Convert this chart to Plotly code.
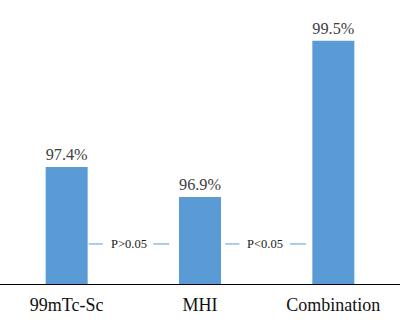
import plotly.graph_objects as go

categories = ["99mTc-Sc", "MHI", "Combination"]
values = [97.4, 96.9, 99.5]
value_labels = ["97.4%", "96.9%", "99.5%"]
p_labels = ["P>0.05", "P<0.05"]

BLUE = "#5B9BD5"
SERIF = "Liberation Serif"

fig = go.Figure()
fig.add_trace(go.Bar(
    x=categories, y=values,
    marker=dict(color=BLUE, line=dict(width=0)),
    text=value_labels, textposition="outside",
    textfont=dict(family=SERIF, size=18, color="#404040"),
    outsidetextfont=dict(family=SERIF, size=18, color="#404040"),
    cliponaxis=False,
))

# p-value annotations between bars
centers = [0.465, 1.49]
for c, lab in zip(centers, p_labels):
    fig.add_annotation(x=c, y=0.141, xref="x", yref="paper", text=lab,
                       yanchor="middle", xanchor="center",
                       showarrow=False, font=dict(family=SERIF, size=12.5, color="#222222"))
    fig.add_shape(type="line", xref="x", yref="paper", x0=c - 0.3, x1=c - 0.195,
                  y0=0.141, y1=0.141, line=dict(color=BLUE, width=1))
    fig.add_shape(type="line", xref="x", yref="paper", x0=c + 0.185, x1=c + 0.305,
                  y0=0.141, y1=0.141, line=dict(color=BLUE, width=1))

fig.update_layout(
    width=408, height=326,
    margin=dict(l=0, r=8, t=0, b=42),
    plot_bgcolor="white", paper_bgcolor="white",
    font=dict(family=SERIF),
    bargap=0.685,
    showlegend=False,
    xaxis=dict(type="category", range=[-0.5, 2.5], showline=True, linecolor="black",
               linewidth=1, ticks="outside", ticklen=4, tickcolor="rgba(0,0,0,0)",
               showgrid=False,
               tickfont=dict(family=SERIF, size=18, color="#111111")),
    yaxis=dict(range=[95.45, 100.18], visible=False, showgrid=False, zeroline=False),
)

fig.write_html("out.html")
